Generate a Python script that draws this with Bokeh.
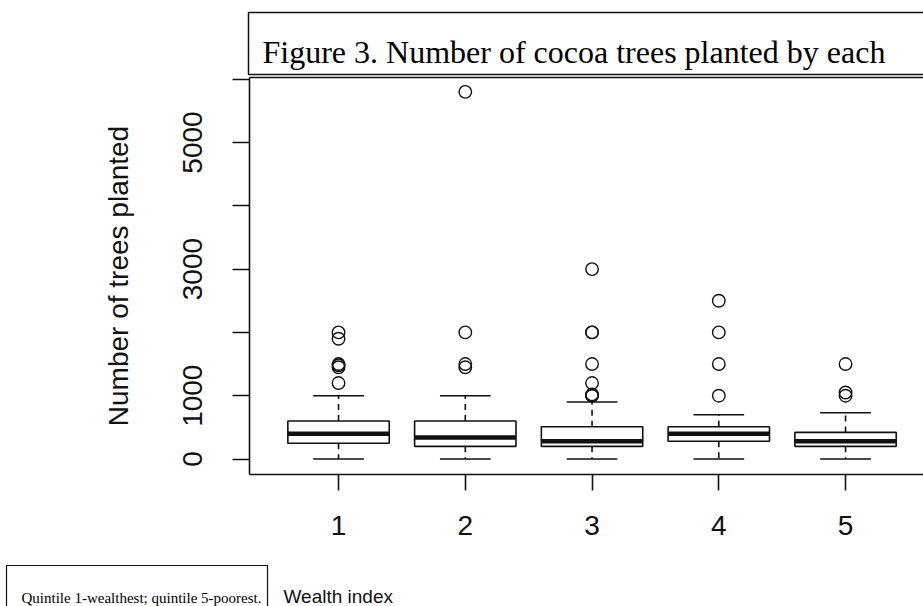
from bokeh.plotting import figure
from bokeh.models import FixedTicker, LinearAxis, Label, PolyAnnotation, Range1d, ColumnDataSource
from bokeh.embed import file_html
from bokeh.resources import INLINE

# ---------------- data ----------------
groups = [1, 2, 3, 4, 5]
group_labels = ["1", "2", "3", "4", "5"]
lower_whisker = [0, 0, 0, 0, 0]
q1 = [250, 200, 200, 280, 200]
medians = [400, 340, 280, 400, 280]
q3 = [600, 600, 510, 510, 420]
upper_whisker = [1000, 1000, 900, 700, 730]

outlier_group = [1, 1, 1, 1, 1, 1,
                 2, 2, 2, 2,
                 3, 3, 3, 3, 3, 3, 3, 3,
                 4, 4, 4, 4,
                 5, 5, 5]
outlier_value = [1200, 1450, 1480, 1500, 1900, 2000,
                 1450, 1500, 2000, 5800,
                 1000, 1000, 1020, 1200, 1500, 2000, 2000, 3000,
                 1000, 1500, 2000, 2500,
                 1000, 1050, 1500]

y_ticks = [0, 1000, 2000, 3000, 4000, 5000, 6000]
y_tick_labels = ["0", "1000", "", "3000", "", "5000", ""]

title_text = "Figure 3. Number of cocoa trees planted by each"
note_text = "Quintile 1-wealthest; quintile 5-poorest."
x_title = "Wealth index"
y_title = "Number of trees planted"

INK = "#111111"
W, H = 923, 606

# plotting-box limits in data units (R style: 4% padding around the data)
X_LO, X_HI = 0.3, 5.615
Y_LO, Y_HI = -245, 6027

# the frame covers the whole canvas; axes sit at fixed locations inside it
p = figure(width=W, height=H, output_backend="svg", toolbar_location=None,
           x_range=Range1d(-1.667, 5.615), y_range=Range1d(-2330, 7243),
           x_axis_type=None, y_axis_type=None,
           min_border_left=0, min_border_right=0, min_border_top=0, min_border_bottom=0)
p.outline_line_color = None
p.background_fill_color = "white"
p.border_fill_color = "white"

BOX_W = 0.8
CAP_W = 0.4
src = ColumnDataSource(dict(
    g=groups, lo=lower_whisker, q1=q1, med=medians, q3=q3, hi=upper_whisker,
    left=[g - BOX_W / 2 for g in groups], right=[g + BOX_W / 2 for g in groups],
    cl=[g - CAP_W / 2 for g in groups], cr=[g + CAP_W / 2 for g in groups],
))

p.segment(x0="g", x1="g", y0="q3", y1="hi", source=src, line_color=INK, line_width=1.6, line_dash="6 5")
p.segment(x0="g", x1="g", y0="q1", y1="lo", source=src, line_color=INK, line_width=1.6, line_dash="6 5")
p.segment(x0="cl", x1="cr", y0="hi", y1="hi", source=src, line_color=INK, line_width=1.6)
p.segment(x0="cl", x1="cr", y0="lo", y1="lo", source=src, line_color=INK, line_width=1.6)
p.quad(left="left", right="right", bottom="q1", top="q3", source=src,
       fill_color="white", line_color=INK, line_width=1.6)
p.segment(x0="left", x1="right", y0="med", y1="med", source=src, line_color=INK, line_width=4.5)
p.scatter(x=outlier_group, y=outlier_value, marker="circle", size=12.5,
          fill_color=None, line_color=INK, line_width=1.4)

def style_axis(ax):
    ax.axis_line_color = INK
    ax.axis_line_width = 1.6
    ax.major_tick_line_color = INK
    ax.major_tick_line_width = 1.6
    ax.major_tick_in = 0
    ax.minor_tick_line_color = None
    ax.major_label_text_font = "Liberation Sans"
    ax.major_label_text_font_size = "28px"
    ax.major_label_text_color = INK

yaxis = LinearAxis(ticker=FixedTicker(ticks=y_ticks, minor_ticks=[]),
                   major_label_overrides={t: s for t, s in zip(y_ticks, y_tick_labels)},
                   fixed_location=X_LO, bounds=(Y_LO, Y_HI))
style_axis(yaxis)
yaxis.major_tick_out = 17
yaxis.major_label_orientation = "parallel"
yaxis.major_label_standoff = 31
yaxis.axis_label = y_title
yaxis.axis_label_text_font = "Liberation Sans"
yaxis.axis_label_text_font_size = "28px"
yaxis.axis_label_text_font_style = "normal"
yaxis.axis_label_text_color = INK
yaxis.axis_label_standoff = 46
p.add_layout(yaxis, "left")

xaxis = LinearAxis(ticker=FixedTicker(ticks=groups, minor_ticks=[]),
                   major_label_overrides={g: s for g, s in zip(groups, group_labels)},
                   fixed_location=Y_LO, bounds=(X_LO, X_HI))
style_axis(xaxis)
xaxis.major_tick_out = 16
xaxis.major_label_standoff = 25
p.add_layout(xaxis, "below")

# top edge of the plotting box
top_axis = LinearAxis(ticker=FixedTicker(ticks=[], minor_ticks=[]),
                      fixed_location=Y_HI, bounds=(X_LO, X_HI))
top_axis.axis_line_color = INK
top_axis.axis_line_width = 1.6
top_axis.major_tick_line_color = None
top_axis.minor_tick_line_color = None
top_axis.major_label_text_font_size = "0px"
p.add_layout(top_axis, "above")

# ---------------- overlay boxes and texts (screen px: x from left, y from bottom) ----------------
def sy(page_y):
    return H - page_y

def frame_box(l, r, t, b, lw):
    return PolyAnnotation(xs=[l, r, r, l], ys=[sy(t), sy(t), sy(b), sy(b)],
                          xs_units="screen", ys_units="screen",
                          fill_color="white", fill_alpha=1.0,
                          line_color=INK, line_alpha=1.0, line_width=lw)

# title box runs off the right edge; note box runs off the bottom edge
p.add_layout(frame_box(248, W + 80, 12, 74, 1.5))
p.add_layout(Label(x=262, y=sy(51), x_units="screen", y_units="screen", text=title_text,
                   text_font="Liberation Serif", text_font_size="32px", text_color="black",
                   text_baseline="alphabetic", text_align="left"))

p.add_layout(frame_box(6, 267, 565, H + 80, 1.2))
p.add_layout(Label(x=21, y=sy(597), x_units="screen", y_units="screen", text=note_text,
                   text_font="Liberation Serif", text_font_size="15px", text_color="black",
                   text_baseline="alphabetic", text_align="left"))
p.add_layout(Label(x=283, y=sy(596), x_units="screen", y_units="screen", text=x_title,
                   text_font="Liberation Sans", text_font_size="19px", text_color=INK,
                   text_baseline="alphabetic", text_align="left"))

open("out.html", "w").write(file_html(p, INLINE))
